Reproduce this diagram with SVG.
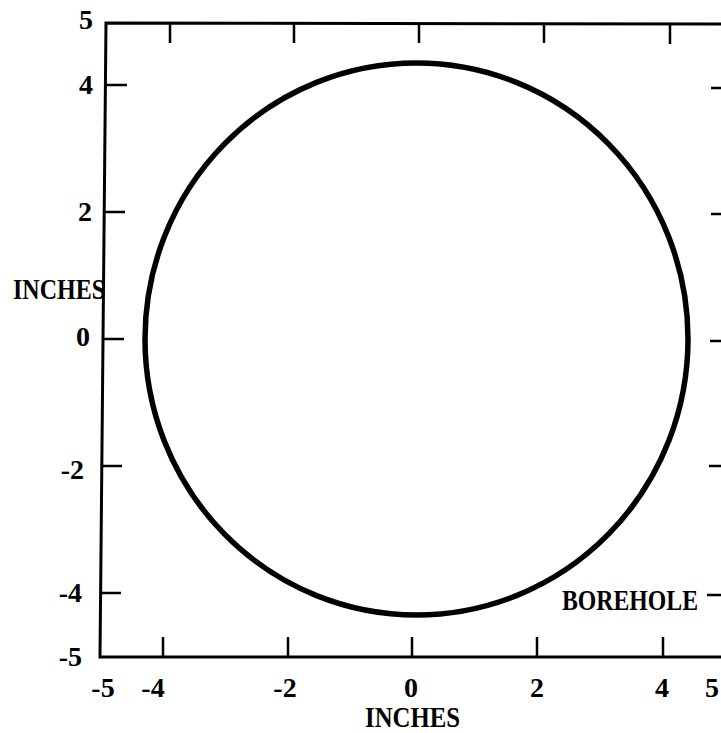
<svg xmlns="http://www.w3.org/2000/svg" width="721" height="733" viewBox="0 0 721 733">
<style>
.ax{stroke:#000;stroke-width:3;fill:none;stroke-linecap:square}
.tk{stroke:#000;stroke-width:2.5;fill:none}
.num{font-family:"Liberation Serif",serif;font-weight:bold;font-size:28px;fill:#000}
.word{font-family:"Liberation Serif",serif;font-weight:bold;font-size:29px;fill:#000}
</style>
<rect width="721" height="733" fill="#fff"/>
<g id="axes">
<path class="ax" d="M721,24 L106,23 L100,657 L721,657"/>
<g id="ticks">
<path class="tk" d="M170,23V43 M294,23V43 M419,23V43 M544,23V43 M670,23V44"/>
<path class="tk" d="M163,657V637 M288,657V637 M412,657V637 M537,657V637 M663,657V637"/>
<path class="tk" d="M106,85H127 M105,212H125 M103,339H124 M102,466H122 M100,593H121"/>
<path class="tk" d="M711,88H721 M711,214H721 M710,341H721 M709,466H721 M707,595H721"/>
</g>
</g>
<g id="ylabels" class="num" text-anchor="end">
<text x="93" y="29">5</text>
<text x="93" y="94">4</text>
<text x="92" y="221">2</text>
<text x="90" y="346">0</text>
<text x="84" y="479">-2</text>
<text x="82" y="602">-4</text>
<text x="82" y="666">-5</text>
</g>
<g id="xlabels" class="num" text-anchor="middle">
<text x="103" y="697">-5</text>
<text x="153" y="697">-4</text>
<text x="285" y="697">-2</text>
<text x="411" y="697">0</text>
<text x="537" y="697">2</text>
<text x="662" y="697">4</text>
<text x="712" y="697">5</text>
</g>
<text id="ytitle" class="word" x="13" y="299" textLength="92" lengthAdjust="spacingAndGlyphs">INCHES</text>
<text id="xtitle" class="word" x="365" y="727" textLength="95" lengthAdjust="spacingAndGlyphs">INCHES</text>
<g id="borehole">
<ellipse cx="416.5" cy="339" rx="271.5" ry="276" fill="none" stroke="#000" stroke-width="5.5"/>
<text class="word" x="562" y="610" textLength="136" lengthAdjust="spacingAndGlyphs">BOREHOLE</text>
</g>
</svg>
